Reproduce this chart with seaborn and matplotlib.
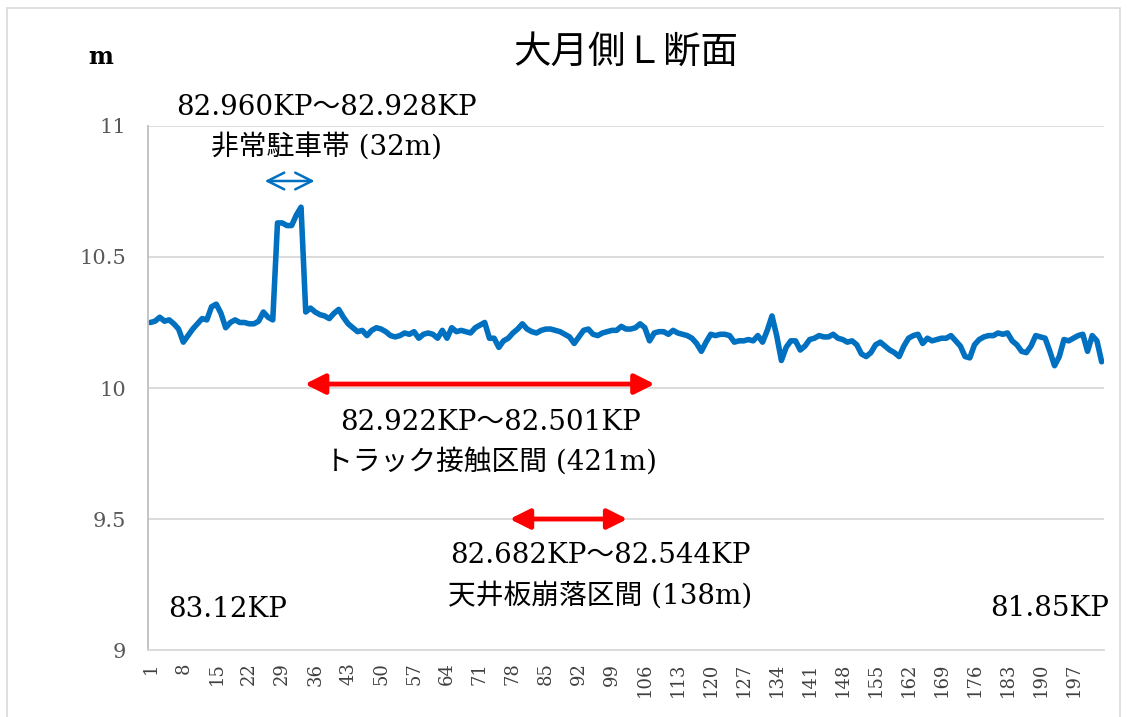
import numpy as np
import pandas as pd
import matplotlib
matplotlib.use("Agg")
import matplotlib.pyplot as plt
import seaborn as sns

# elevation readings (m), one per measurement point
heights = [
    10.25, 10.255, 10.27, 10.255, 10.26, 10.245, 10.225, 10.175, 10.20, 10.225,
    10.245, 10.265, 10.26, 10.31, 10.32, 10.285, 10.23, 10.25, 10.26, 10.25,
    10.25, 10.245, 10.245, 10.255, 10.29, 10.27, 10.26, 10.63, 10.63, 10.62,
    10.62, 10.66, 10.69, 10.29, 10.305, 10.29, 10.28, 10.275, 10.265, 10.285,
    10.30, 10.27, 10.245, 10.23, 10.215, 10.22, 10.20, 10.22, 10.23, 10.225,
    10.215, 10.20, 10.195, 10.20, 10.21, 10.205, 10.215, 10.19, 10.205, 10.21,
    10.205, 10.19, 10.22, 10.19, 10.23, 10.215, 10.22, 10.215, 10.21, 10.23,
    10.24, 10.25, 10.19, 10.19, 10.155, 10.18, 10.19, 10.21, 10.225, 10.245,
    10.225, 10.215, 10.21, 10.22, 10.225, 10.225, 10.22, 10.215, 10.205, 10.195,
    10.17, 10.195, 10.22, 10.225, 10.205, 10.20, 10.21, 10.215, 10.22, 10.22,
    10.235, 10.225, 10.225, 10.23, 10.245, 10.23, 10.18, 10.21, 10.215, 10.215,
    10.205, 10.22, 10.21, 10.205, 10.20, 10.19, 10.17, 10.14, 10.175, 10.205,
    10.20, 10.205, 10.205, 10.20, 10.175, 10.18, 10.18, 10.185, 10.18, 10.20,
    10.175, 10.22, 10.275, 10.20, 10.105, 10.155, 10.18, 10.18, 10.145, 10.16,
    10.185, 10.19, 10.20, 10.195, 10.195, 10.205, 10.19, 10.185, 10.175, 10.18,
    10.165, 10.13, 10.12, 10.135, 10.165, 10.175, 10.16, 10.145, 10.135, 10.12,
    10.16, 10.19, 10.20, 10.205, 10.17, 10.19, 10.18, 10.185, 10.19, 10.19,
    10.20, 10.18, 10.16, 10.12, 10.115, 10.165, 10.185, 10.195, 10.20, 10.20,
    10.21, 10.205, 10.21, 10.18, 10.165, 10.14, 10.135, 10.16, 10.20, 10.195,
    10.19, 10.14, 10.085, 10.12, 10.185, 10.18, 10.19, 10.20, 10.205, 10.14,
    10.20, 10.18, 10.10,
]
points = list(range(1, len(heights) + 1))
tick_points = list(range(1, len(heights) + 1, 7))
y_ticks = [9, 9.5, 10, 10.5, 11]

title = "大月側Ｌ断面"
unit_label = "m"
start_kp = "83.12KP"
end_kp = "81.85KP"

# label lines and arrow span (in measurement points) for each section
parking_lines = ["82.960KP～82.928KP", "非常駐車帯 (32m)"]
parking_span = (25.3, 35.9)
contact_lines = ["82.922KP～82.501KP", "トラック接触区間 (421m)"]
contact_span = (33.8, 108.1)
collapse_lines = ["82.682KP～82.544KP", "天井板崩落区間 (138m)"]
collapse_span = (77.3, 102.3)

df = pd.DataFrame({"point": points, "height": heights})

sns.set_theme(style="white")
fonts = ["DejaVu Serif", "Noto Sans CJK JP"]
plt.rcParams["font.family"] = fonts

fig = plt.figure(figsize=(11.27, 7.17), dpi=100)
ax = fig.add_axes([0.1313, 0.0934, 0.8483, 0.7309])

sns.lineplot(data=df, x="point", y="height", color="#0070C0",
             linewidth=4.0, ax=ax)

ax.set_xlim(0.5, len(heights) + 0.5)
ax.set_ylim(9, 11)
ax.set_yticks(y_ticks)
ax.set_yticklabels([f"{v:g}" for v in y_ticks], color="#595959", fontsize=15)
ax.set_xticks(tick_points)
ax.set_xticklabels([str(t) for t in tick_points], rotation=90,
                   color="#404040", fontsize=13)
ax.tick_params(axis="y", length=0, pad=16)
ax.tick_params(axis="x", length=0, pad=9)
ax.set_xlabel("")
ax.set_ylabel("")

for v in y_ticks[1:]:
    ax.axhline(v, color="#d9d9d9", linewidth=1.3, zorder=0)
for side in ["top", "right"]:
    ax.spines[side].set_visible(False)
ax.spines["left"].set_color("#bfbfbf")
ax.spines["bottom"].set_color("#d9d9d9")
ax.spines["left"].set_linewidth(1.3)
ax.spines["bottom"].set_linewidth(1.3)

fig.text(0.555, 0.927, title, ha="center", va="center", fontsize=27,
         color="black", family=fonts)
fig.text(0.089, 0.92, unit_label, ha="center", va="center", fontsize=17,
         fontweight="bold", color="black", family=fonts)

txt = dict(ha="center", va="center", fontsize=20, color="black",
           family=fonts, clip_on=False)
red_arrow = dict(arrowstyle="<|-|>", color="#ff0000", lw=3.5,
                 mutation_scale=30, shrinkA=0, shrinkB=0)

# emergency parking area
ax.text(38.5, 11.07, parking_lines[0], **txt)
ax.text(38.5, 10.918, parking_lines[1], **txt)
ax.annotate("", xy=(parking_span[0], 10.79), xytext=(parking_span[1], 10.79),
            arrowprops=dict(arrowstyle="<->", color="#0070C0", lw=1.8,
                            mutation_scale=30, shrinkA=0, shrinkB=0))

# truck contact section
ax.annotate("", xy=(contact_span[0], 10.015), xytext=(contact_span[1], 10.015),
            arrowprops=red_arrow)
ax.text(73.3, 9.87, contact_lines[0], **txt)
ax.text(73.3, 9.72, contact_lines[1], **txt)

# ceiling collapse section
ax.annotate("", xy=(collapse_span[0], 9.50), xytext=(collapse_span[1], 9.50),
            arrowprops=red_arrow)
ax.text(96.5, 9.36, collapse_lines[0], **txt)
ax.text(96.5, 9.205, collapse_lines[1], **txt)

ax.text(17.3, 9.153, start_kp, **txt)
ax.text(192, 9.16, end_kp, **txt)

# chart area border
fig.patches.append(plt.Rectangle((0.006, -0.01), 0.988, 0.999,
                                 transform=fig.transFigure, fill=False,
                                 edgecolor="#d9d9d9", linewidth=1.2))

fig.savefig("out.png", dpi=100)
